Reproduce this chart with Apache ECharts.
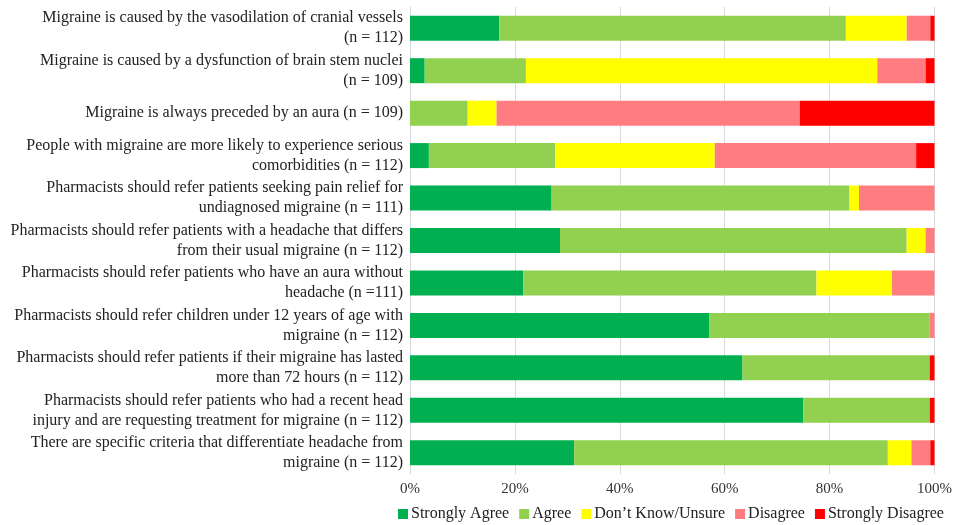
<!DOCTYPE html>
<html>
<head>
<meta charset="utf-8">
<script src="https://cdn.jsdelivr.net/npm/echarts@6/dist/echarts.min.js"></script>
<style>html,body{margin:0;padding:0;background:#fff}#c{width:955px;height:525px}</style>
</head>
<body>
<div id="c"></div>
<script>
const categories = [
  "Migraine is caused by the vasodilation of cranial vessels\n(n = 112)",
  "Migraine is caused by a dysfunction of brain stem nuclei\n(n = 109)",
  "Migraine is always preceded by an aura (n = 109)",
  "People with migraine are more likely to experience serious\ncomorbidities (n = 112)",
  "Pharmacists should refer patients seeking pain relief for\nundiagnosed migraine (n = 111)",
  "Pharmacists should refer patients with a headache that differs\nfrom their usual migraine (n = 112)",
  "Pharmacists should refer patients who have an aura without\nheadache (n =111)",
  "Pharmacists should refer children under 12 years of age with\nmigraine (n = 112)",
  "Pharmacists should refer patients if their migraine has lasted\nmore than 72 hours (n = 112)",
  "Pharmacists should refer patients who had a recent head\ninjury and are requesting treatment for migraine (n = 112)",
  "There are specific criteria that differentiate headache from\nmigraine (n = 112)"
];
const seriesNames = ["Strongly Agree", "Agree", "Don\u2019t Know/Unsure", "Disagree", "Strongly Disagree"];
const stronglyAgree    = [17.0, 2.8, 0.0, 3.6, 27.0, 28.6, 21.6, 57.1, 63.4, 75.0, 31.3];
const agree            = [66.1, 19.3, 11.0, 24.1, 56.8, 66.1, 55.9, 42.0, 35.7, 24.1, 59.8];
const dontKnow         = [11.6, 67.0, 5.5, 30.4, 1.8, 3.6, 14.4, 0.0, 0.0, 0.0, 4.5];
const disagree         = [4.5, 9.2, 57.8, 38.4, 14.4, 1.8, 8.1, 0.9, 0.0, 0.0, 3.6];
const stronglyDisagree = [0.9, 1.8, 25.7, 3.6, 0.0, 0.0, 0.0, 0.0, 0.9, 0.9, 0.9];
const xTicks = [0, 20, 40, 60, 80, 100];

const colors = ["#00B050", "#92D050", "#FFFF00", "#FF7C80", "#FF0000"];
const values = [stronglyAgree, agree, dontKnow, disagree, stronglyDisagree];
const font = "'Liberation Serif', 'Times New Roman', serif";

const chart = echarts.init(document.getElementById('c'), null, {renderer: 'canvas'});
chart.setOption({
  animation: false,
  textStyle: {fontFamily: font},
  grid: {left: 410, right: 20, top: 7, bottom: 51, containLabel: false},
  legend: {
    bottom: 3, left: 398, width: 600,
    padding: 0,
    itemWidth: 10, itemHeight: 10, itemGap: 10,
    icon: 'rect',
    textStyle: {fontFamily: font, fontSize: 16, color: '#222', padding: [0,0,0,-2]},
    data: seriesNames
  },
  xAxis: {
    type: 'value', min: xTicks[0], max: xTicks[xTicks.length-1], interval: 20,
    axisLabel: {formatter: v => v + '%', fontFamily: font, fontSize: 15, color: '#333', margin: 8},
    axisLine: {show: false}, axisTick: {show: false},
    splitLine: {show: true, lineStyle: {color: '#D9D9D9', width: 1}}
  },
  yAxis: {
    type: 'category', inverse: true, data: categories,
    axisLine: {show: true, lineStyle: {color: '#D9D9D9'}},
    axisTick: {show: false},
    axisLabel: {fontFamily: font, fontSize: 16, color: '#222', lineHeight: 20, margin: 7, align: 'right'}
  },
  series: seriesNames.map((n, i) => ({
    name: n, type: 'bar', stack: 'total', barWidth: 25,
    itemStyle: {color: colors[i]},
    data: values[i]
  }))
});
</script>
</body>
</html>
